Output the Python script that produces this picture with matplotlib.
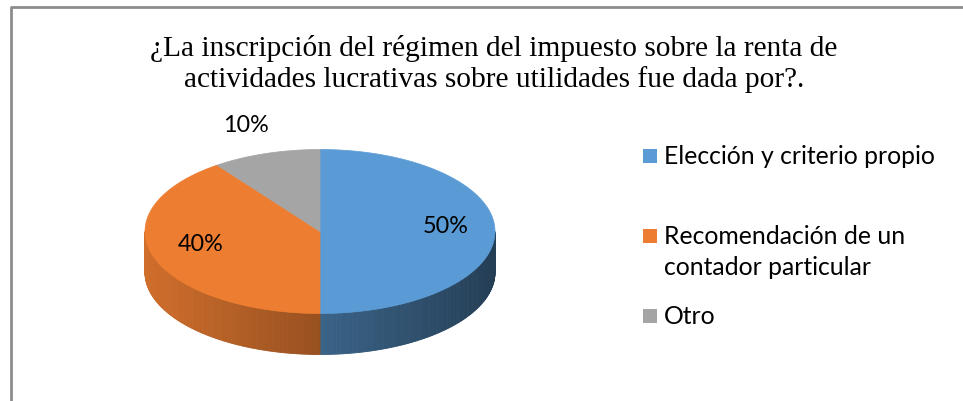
import numpy as np
import matplotlib
matplotlib.use("Agg")
import matplotlib.pyplot as plt
from matplotlib.patches import Polygon, Rectangle
from matplotlib.colors import to_rgb

# data
categories = ["Elección y criterio propio",
              "Recomendación de un\ncontador particular",
              "Otro"]
values = [50, 40, 10]
colors = ["#5B9BD5", "#ED7D31", "#A5A5A5"]
title = ("¿La inscripción del régimen del impuesto sobre la renta de\n"
         "actividades lucrativas sobre utilidades fue dada por?.")

W, H = 963, 402
fig = plt.figure(figsize=(W / 100, H / 100), dpi=100)
ax = fig.add_axes([0, 0, 1, 1])
ax.set_xlim(0, W)
ax.set_ylim(H, 0)
ax.axis("off")

# chart frame (only top and left visible in the crop)
ax.plot([10.5, 10.5, W + 5], [H + 5, 8, 8], color="#8c8c8c", lw=2, zorder=1)

# pie geometry in pixels
cx, cy, rx, ry, depth = 320, 232.5, 175, 82, 41


def proj(t):
    return cx + rx * np.cos(t), cy - ry * np.sin(t)


def side_shade(x):
    # lighter on the left, darker toward the right
    frac = (x - (cx - rx)) / (2 * rx)
    return 0.88 - 0.48 * frac


total = float(sum(values))
start = np.pi / 2
bounds = []
for v in values:
    end = start - 2 * np.pi * v / total
    bounds.append((start, end))
    start = end

# side walls (front half only)
for (a0, a1), col in zip(bounds, colors):
    lo, hi = min(a0, a1), max(a0, a1)
    rgb = np.array(to_rgb(col))
    # visible front is sin(t) < 0
    for k in range(-2, 2):
        s0 = max(lo, -np.pi + 2 * np.pi * k)
        s1 = min(hi, 0 + 2 * np.pi * k)
        if s1 <= s0:
            continue
        ts = np.linspace(s0, s1, 120)
        for t0, t1 in zip(ts[:-1], ts[1:]):
            x0, y0 = proj(t0)
            x1, y1 = proj(t1)
            c = rgb * side_shade((x0 + x1) / 2)
            ax.add_patch(Polygon([(x0, y0), (x1, y1), (x1, y1 + depth),
                                  (x0, y0 + depth)], closed=True,
                                 facecolor=c, edgecolor=c, lw=0.6, zorder=2))

# top faces
for (a0, a1), col in zip(bounds, colors):
    ts = np.linspace(a0, a1, 200)
    xs, ys = proj(ts)
    pts = [(cx, cy)] + list(zip(xs, ys))
    ax.add_patch(Polygon(pts, closed=True, facecolor=col, edgecolor=col,
                         lw=0.5, zorder=3))

# data labels
lab_font = "Lato"
for (a0, a1), v in zip(bounds, values):
    mid = (a0 + a1) / 2
    inside = v / total >= 0.2
    f = 0.72 if inside else 1.37
    dy = -6 if inside else 0
    x, y = cx + f * rx * np.cos(mid), cy - f * ry * np.sin(mid) + dy
    ax.text(x, y, f"{v}%", ha="center", va="center", fontsize=16.8,
            family=lab_font, color="black", zorder=4)

# legend
leg_y = [157, 237, 317]
line_gap = 31
for lab, col, y in zip(categories, colors, leg_y):
    ax.add_patch(Rectangle((643, y - 7), 14, 14, facecolor=col,
                           edgecolor="none", zorder=4))
    for i, line in enumerate(lab.split("\n")):
        ax.text(664, y + i * line_gap, line, ha="left", va="center",
                fontsize=17.8, family=lab_font, zorder=4)

# title
ax.text(494, 64, title, ha="center", va="center", fontsize=21.2,
        family="Liberation Serif", linespacing=1.22, zorder=4)

fig.savefig("out.png", dpi=100, facecolor="white")
